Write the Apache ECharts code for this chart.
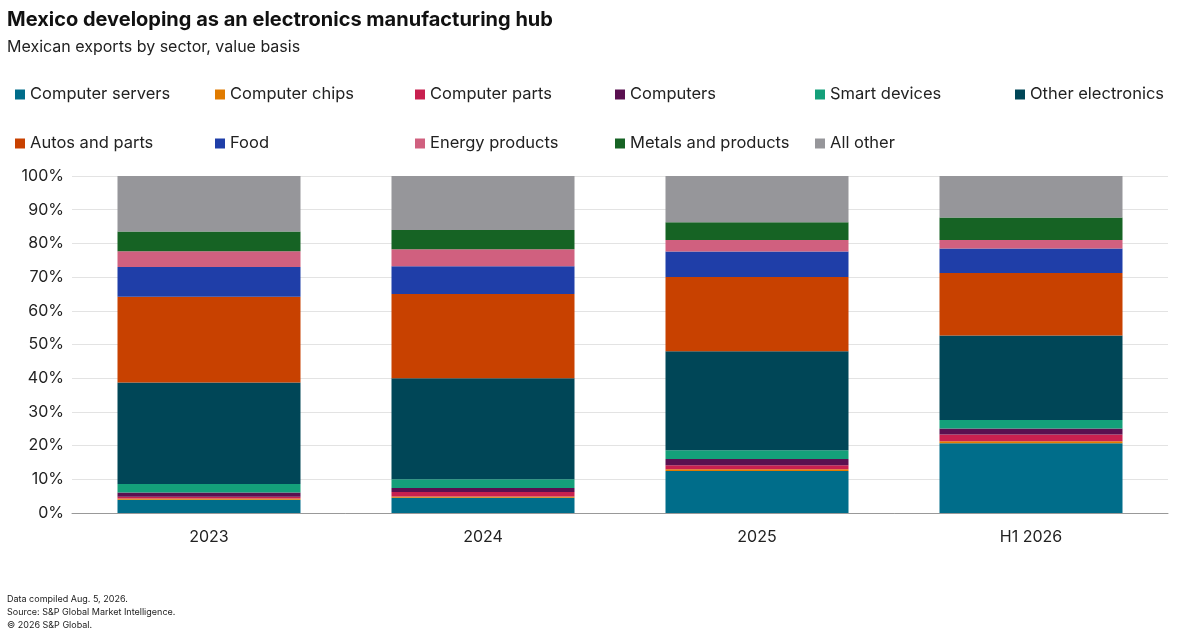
<!DOCTYPE html>
<html>
<head>
<meta charset="UTF-8">
<script src="https://cdn.jsdelivr.net/npm/echarts@6/dist/echarts.min.js"></script>
<style>
  body{margin:0;background:#fff;}
  #chart{width:1200px;height:628px;}
</style>
</head>
<body>
<div id="chart"></div>
<script>
var years = ['2023', '2024', '2025', 'H1 2026'];
var sectors = ['Computer servers', 'Computer chips', 'Computer parts', 'Computers', 'Smart devices', 'Other electronics',
               'Autos and parts', 'Food', 'Energy products', 'Metals and products', 'All other'];
var colors = ['#006d8a', '#e07b00', '#c8204f', '#5a1050', '#14a07a', '#004657',
              '#c84100', '#1f3ea8', '#d0607f', '#166324', '#96969a'];
// shares in %
var servers     = [3.9, 4.5, 12.5, 20.7];
var chips       = [0.4, 0.4, 0.5, 0.6];
var parts       = [0.5, 1.3, 1.2, 2.0];
var computers   = [1.3, 1.2, 1.8, 1.8];
var smart       = [2.5, 2.6, 2.6, 2.5];
var otherElec   = [30.1, 30.0, 29.4, 25.1];
var autos       = [25.5, 25.0, 22.0, 18.5];
var food        = [8.8, 8.2, 7.6, 7.3];
var energy      = [4.7, 5.1, 3.4, 2.5];
var metals      = [5.8, 5.7, 5.3, 6.7];
var allOther    = [16.5, 16.0, 13.7, 12.3];
var seriesData = [servers, chips, parts, computers, smart, otherElec, autos, food, energy, metals, allOther];

var font = 'Inter, "Noto Sans", sans-serif';
var legends = sectors.map(function (name, i) {
  return {
    data: [name],
    left: 10 + (i % 6) * 200,
    top: 81 + Math.floor(i / 6) * 49,
    icon: 'rect', itemWidth: 10, itemHeight: 10, itemGap: 5,
    selectedMode: false,
    textStyle: {fontFamily: font, fontSize: 16.5, color: '#222'}
  };
});

var chart = echarts.init(document.getElementById('chart'));
chart.setOption({
  animation: false,
  color: colors,
  title: [
    {text: 'Mexico developing as an electronics manufacturing hub', left: 2, top: 5,
     textStyle: {fontFamily: font, fontSize: 20, fontWeight: 'bold', color: '#111'}},
    {text: 'Mexican exports by sector, value basis', left: 2, top: 34,
     textStyle: {fontFamily: font, fontSize: 16, fontWeight: 'normal', color: '#222'}},
    {text: 'Data compiled Aug. 5, 2026.\nSource: S&P Global Market Intelligence.\n© 2026 S&P Global.', left: 2, top: 588,
     textStyle: {fontFamily: font, fontSize: 9, lineHeight: 13, fontWeight: 'normal', color: '#222'}}
  ],
  legend: legends,
  grid: {left: 72, right: 32, top: 176, bottom: 115},
  xAxis: {
    type: 'category', data: years,
    axisTick: {show: false},
    axisLine: {lineStyle: {color: '#999'}},
    axisLabel: {fontFamily: font, fontSize: 16, color: '#222', margin: 16}
  },
  yAxis: {
    type: 'value', min: 0, max: 100, interval: 10,
    axisLabel: {formatter: '{value}%', fontFamily: font, fontSize: 16, color: '#222'},
    splitLine: {lineStyle: {color: '#e3e3e3'}}
  },
  series: seriesData.map(function (d, i) {
    return {name: sectors[i], type: 'bar', stack: 'all', data: d, barWidth: 183};
  })
});
</script>
</body>
</html>
